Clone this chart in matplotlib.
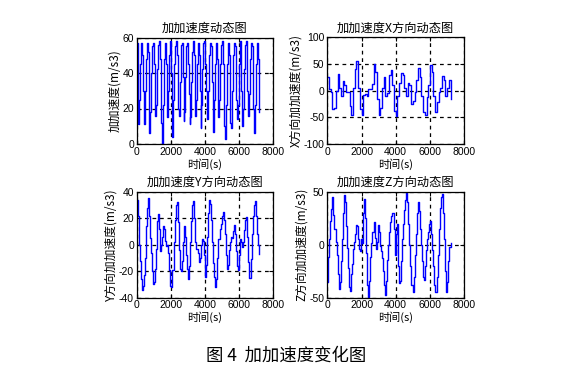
# -*- coding: utf-8 -*-
"""
加加速度变化图 (图4)
四个子图：合成加加速度、X/Y/Z方向加加速度
"""
import numpy as np
import matplotlib
matplotlib.use('Agg')
import matplotlib.pyplot as plt

plt.rcParams['font.family'] = ['Liberation Sans', 'Noto Sans CJK SC', 'DejaVu Sans']
plt.rcParams['axes.unicode_minus'] = False

# 合成加加速度 (每50s一个点)
jerk_total = [57, 38, 11, 25, 45, 57, 50, 30, 14, 11, 30, 48, 57, 52, 25, 6, 18, 40, 55, 57,
              45, 28, 16, 22, 42, 56, 58, 48, 30, 12, 0, 22, 48, 57, 45, 28, 15, 30, 50, 58,
              40, 20, 4, 25, 45, 55, 58, 50, 35, 20, 16, 35, 56, 57, 38, 13, 18, 38, 55, 57,
              45, 28, 11, 15, 35, 52, 58, 50, 30, 16, 25, 45, 57, 50, 30, 9, 22, 42, 57, 58,
              45, 30, 20, 14, 30, 50, 57, 55, 35, 15, 7, 25, 45, 57, 48, 28, 15, 25, 45, 56,
              58, 45, 25, 10, 3, 22, 45, 57, 50, 30, 12, 9, 30, 50, 57, 55, 40, 25, 14, 22,
              45, 58, 50, 30, 10, 20, 42, 56, 58, 45, 30, 16, 28, 48, 57, 55, 38, 20, 6, 22,
              45, 57, 48, 30, 18]

# X方向 (每100s一个点)
jerk_x = [25, 3, -2, -35, -33, 0, 31, 5, -10, 18, 10, -3, -3, -28, -45, 5, 40, 55, 5, -35,
          -45, -8, -6, -10, 4, 3, 12, 50, 35, -15, -45, -33, 5, 26, -10, -5, 30, 38, 10, -38,
          -48, -10, 15, 32, 30, 5, -10, 15, 10, -25, -20, -2, 20, 42, 25, -10, -40, -45, -12, 10,
          47, 35, -10, -40, -22, -2, 5, 28, 20, -10, 5, 20, -15]

# Y方向 (每60s一个点)
jerk_y = [34, 22, 0, -12, -26, -34, -31, -23, -10, 14, 28, 35, 22, 5, -6, -20, -30, -28, -18, -3,
          18, 23, 12, -5, 0, 6, 14, 12, 3, -1, 0, -6, -19, -31, -32, -19, 2, 19, 30, 32,
          17, -4, -18, -20, -12, 2, 14, 6, -8, -18, -26, -16, 2, 18, 30, 33, 20, 2, -3, -3,
          -6, -13, -10, 0, 4, 3, -8, -24, -15, 6, 24, 34, 31, 19, 2, -14, -24, -32, -26, -10,
          4, 12, 16, 22, 25, 19, 8, -8, -18, -15, -4, 2, 6, 5, 10, 15, 8, -5, -16, -19,
          -8, 4, 2, -2, 2, 11, 19, 21, 6, -13, -25, -25, -11, 8, 22, 30, 33, 22, 8, 0,
          -7]

# Z方向 (每60s一个点)
jerk_z = [-35, -12, 5, 22, 34, 45, 28, 15, 3, -10, -28, -42, -35, -15, 5, 30, 47, 40, 18, -3,
          -22, -40, -44, -28, -18, -4, 3, 10, 19, 18, 5, -4, -6, 5, 2, 30, 43, 25, -8, -38,
          -49, -34, -12, 2, 12, 21, 6, -4, 3, 19, 12, -1, -6, -13, -25, -38, -47, -34, -14, 0,
          12, 21, 27, 30, 30, 15, -10, 10, 20, -20, -36, -34, -15, 5, 20, 33, 42, 49, 40, 20,
          0, -20, -38, -45, -30, -10, 10, 30, 40, 32, 15, 0, -15, -30, -33, -20, -5, 5, 12, 20,
          22, 10, -5, -20, -38, -45, -45, -30, -10, 15, 35, 45, 48, 30, 5, -25, -45, -35, -15, -2,
          2]

t_total = np.arange(len(jerk_total)) * 50
t_x = np.arange(len(jerk_x)) * 100
t_y = np.arange(len(jerk_y)) * 60
t_z = np.arange(len(jerk_z)) * 60

W, H = 574, 377
fig = plt.figure(figsize=(W / 100, H / 100), dpi=100)


def make_ax(l, r, top, bot):
    return fig.add_axes([l / W, 1 - bot / H, (r - l) / W, (bot - top) / H])


panels = [
    (make_ax(136.7, 273, 37.5, 144), t_total, jerk_total, (0, 60), [0, 20, 40, 60],
     '加加速度动态图', '加加速度(m/s3)'),
    (make_ax(327.3, 464.2, 37, 144.3), t_x, jerk_x, (-100, 100), [-100, -50, 0, 50, 100],
     '加加速度X方向动态图', 'X方向加加速度(m/s3)'),
    (make_ax(136.7, 273, 191.7, 297.7), t_y, jerk_y, (-40, 40), [-40, -20, 0, 20, 40],
     '加加速度Y方向动态图', 'Y方向加加速度(m/s3)'),
    (make_ax(327.3, 464.2, 191.7, 297.7), t_z, jerk_z, (-50, 50), [-50, 0, 50],
     '加加速度Z方向动态图', 'Z方向加加速度(m/s3)'),
]

for ax, t, v, ylim, yticks, title, ylabel in panels:
    ax.plot(t, v, color='#0000ff', lw=1.0, drawstyle='steps-post')
    ax.set_xlim(0, 8000)
    ax.set_ylim(*ylim)
    ax.set_xticks([0, 2000, 4000, 6000, 8000])
    ax.set_yticks(yticks)
    ax.grid(True, ls='--', color='k', lw=0.9, dashes=(3, 3))
    ax.tick_params(direction='in', top=True, right=True, length=3, labelsize=7.5, pad=2)
    for s in ax.spines.values():
        s.set_linewidth(0.9)
    ax.set_title(title, fontsize=8.8, pad=4, family=['Noto Sans CJK SC'])
    ax.set_xlabel('时间(s)', fontsize=8, labelpad=1, family=['Noto Sans CJK SC', 'DejaVu Sans'])
    ax.set_ylabel(ylabel, fontsize=8.5, labelpad=1, family=['Noto Sans CJK SC', 'DejaVu Sans'])

fig.text(286 / W, 1 - 356 / H, '图 4  加加速度变化图', ha='center', va='center',
         fontsize=12.5, family=['Noto Sans CJK SC'])

fig.savefig('out.png', dpi=100)
